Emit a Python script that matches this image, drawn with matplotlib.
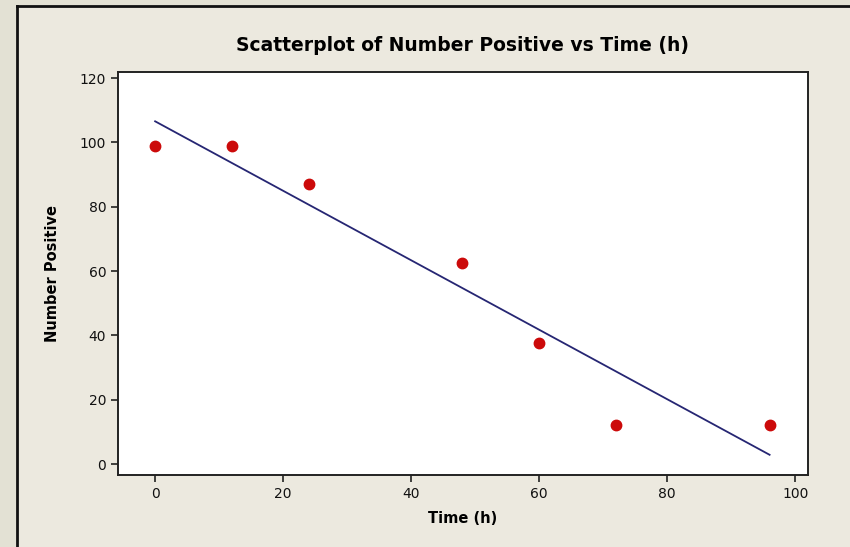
import numpy as np
import matplotlib
matplotlib.use("Agg")
import matplotlib.pyplot as plt
from matplotlib.patches import Rectangle

# data
time_h = [0, 12, 24, 48, 60, 72, 96]
number_positive = [99, 99, 87, 62.5, 37.5, 12, 12]

x_ticks = [0, 20, 40, 60, 80, 100]
y_ticks = [0, 20, 40, 60, 80, 100, 120]

plt.rcParams['font.family'] = ['DejaVu Sans']

W, H = 850, 547
fig = plt.figure(figsize=(W / 100, H / 100), dpi=100)
fig.patch.set_facecolor('#e3e1d4')

# beige panel with dark left/top edge
panel = Rectangle((17 / W, 0), 1, 1 - 6 / H, transform=fig.transFigure,
                  facecolor='#ece9df', edgecolor='none', zorder=-10)
fig.add_artist(panel)
fig.add_artist(plt.Line2D([17 / W, 17 / W], [0, 1 - 6 / H], transform=fig.transFigure,
                          color='#111111', lw=2, zorder=-9))
fig.add_artist(plt.Line2D([17 / W, 1], [1 - 6 / H, 1 - 6 / H], transform=fig.transFigure,
                          color='#111111', lw=2, zorder=-9))

left, right, top, bottom = 118, 808, 72, 475
ax = fig.add_axes([left / W, 1 - bottom / H, (right - left) / W, (bottom - top) / H])
ax.set_zorder(1)
ax.set_facecolor('white')

# regression line
slope, intercept = np.polyfit(time_h, number_positive, 1)
xs = np.array([min(time_h), max(time_h)])
ax.plot(xs, intercept + slope * xs, color='#262673', lw=1.3, zorder=2)

ax.plot(time_h, number_positive, 'o', color='#cc0a0a', markersize=7.5, zorder=3)

ax.set_xlim(-5.8, 102)
ax.set_ylim(-3.4, 121.9)
ax.set_xticks(x_ticks)
ax.set_yticks(y_ticks)

for s in ax.spines.values():
    s.set_color('#222222')
    s.set_linewidth(1.4)
ax.tick_params(direction='out', length=5, width=1.2, color='#222222',
               labelsize=10, labelcolor='#111111')

ax.set_title('Scatterplot of Number Positive vs Time (h)', fontsize=13.5,
             fontweight='bold', pad=15)
ax.set_xlabel('Time (h)', fontsize=10.5, fontweight='bold', labelpad=7)
ax.set_ylabel('Number Positive', fontsize=10.5, fontweight='bold', labelpad=14)

fig.savefig('out.png', dpi=100, facecolor=fig.get_facecolor())
